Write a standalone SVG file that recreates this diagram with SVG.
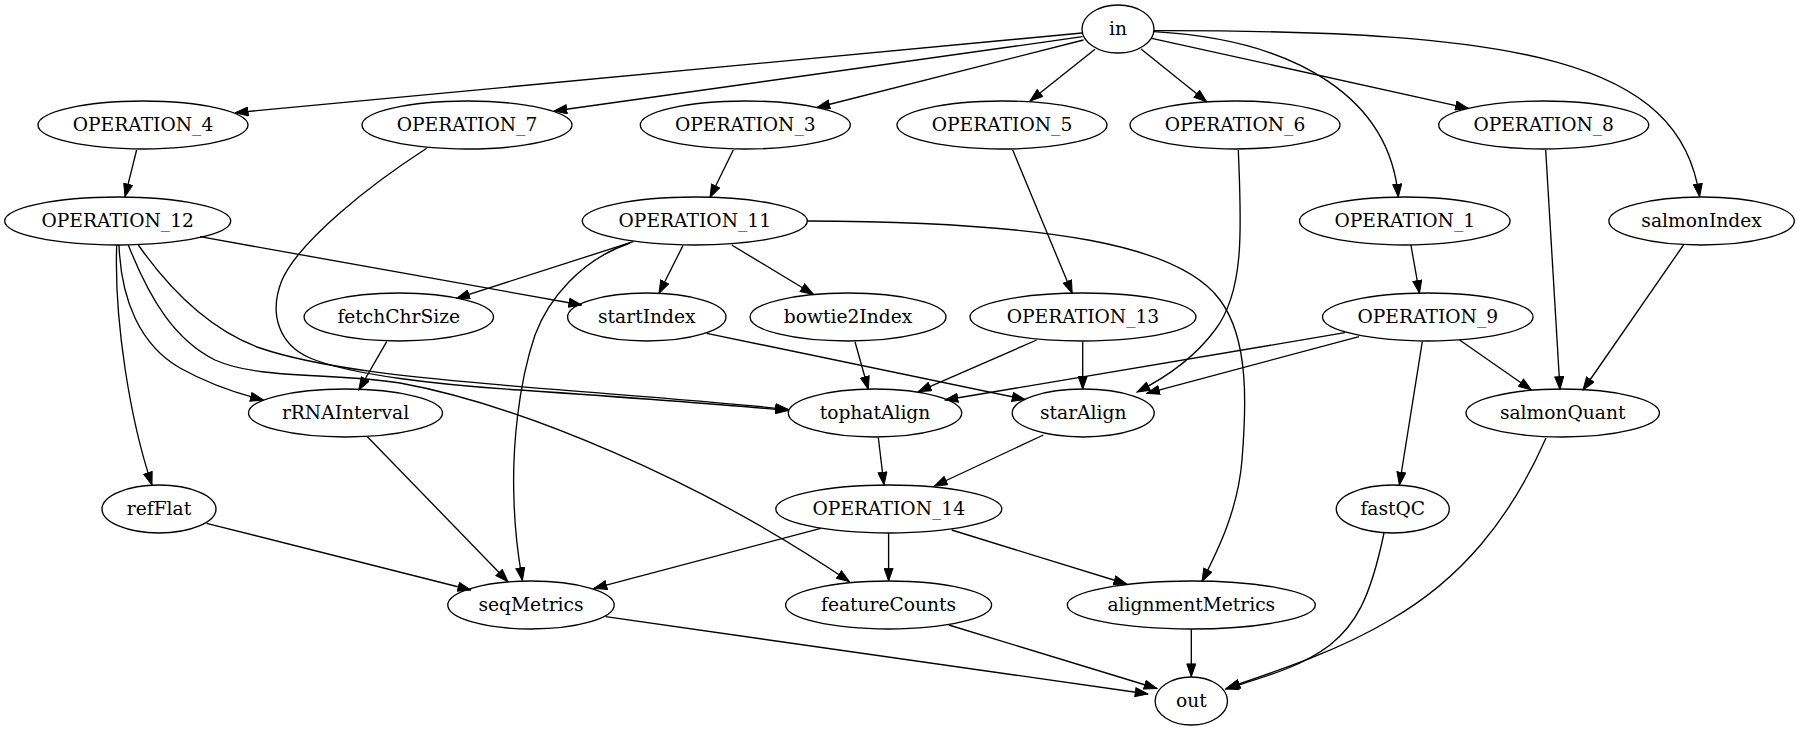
<svg xmlns="http://www.w3.org/2000/svg" width="1797" height="731" viewBox="0 0 1797 731">
<style>
.n ellipse{fill:none;stroke:#000;stroke-width:1.33}
.n text{font-family:"DejaVu Serif","Liberation Serif",serif;font-size:18.67px;text-anchor:middle;fill:#000}
#edges path{fill:none;stroke:#000;stroke-width:1.33;marker-end:url(#arr)}
</style>
<defs>
<marker id="arr" markerUnits="userSpaceOnUse" viewBox="0 0 14 10" markerWidth="14" markerHeight="10" refX="13.3" refY="5" orient="auto">
<path d="M0.5,0.5 L13.3,5 L0.5,9.5 z" fill="#000" stroke="#000" stroke-width="1"/>
</marker>
</defs>
<rect width="1797" height="731" fill="#fff"/>
<g id="edges">
<path d="M1082,33 L235.3,112.7"/>
<path d="M1082.5,36.7 L554,111"/>
<path d="M1083.5,40 L817,107.5"/>
<path d="M1095,49.3 L1030,101"/>
<path d="M1141,49 L1206.7,101.7"/>
<path d="M1151.7,38.3 L1468.3,108.3"/>
<path d="M1154,31.7 C1300,40 1390,100 1398.3,197"/>
<path d="M1154,30.7 C1520,30 1680,60 1699.6,196.7"/>
<path d="M136.6,150 L125,196.7"/>
<path d="M733.3,150 L710,197.5"/>
<path d="M1012.7,150 L1072.2,293.3"/>
<path d="M1238.3,150 C1241,220 1246,290 1215,330 C1195,357 1165,378 1137,392"/>
<path d="M426.7,148.3 C370,185 300,240 282,280 C268,315 280,345 310,358 C350,375 440,385 520,390 C620,397 720,404 788.3,410.5"/>
<path d="M1545.7,150 L1560,389.5"/>
<path d="M1410.9,245 L1419.5,293.3"/>
<path d="M1683.5,245 L1583,390"/>
<path d="M200,236.7 L581.7,305"/>
<path d="M116.7,245 C114,320 130,420 152,485"/>
<path d="M119,245 C121,300 140,345 180,368 C205,382 235,393 263.3,400"/>
<path d="M128.3,245 C150,300 175,340 215,360 C260,380 330,372 400,383 C520,405 700,480 849.5,581.7"/>
<path d="M138.3,245 C170,290 210,330 260,348 C330,372 450,380 520,386.7 C620,395 720,402 788.3,409.5"/>
<path d="M633.3,241.7 L456.7,298.3"/>
<path d="M683,245.5 L659,293.3"/>
<path d="M731.7,245 L813.3,294.3"/>
<path d="M630,243 C580,260 548,300 535,335 C518,385 512,450 514,500 C515,540 519,560 522.4,580.5"/>
<path d="M807,221 C1050,222 1180,245 1220,300 C1250,340 1246,410 1242,460 C1238,510 1218,550 1202,581.5"/>
<path d="M386.7,341.7 L358.8,390"/>
<path d="M706.7,333.3 L1025,399.5"/>
<path d="M855,341.7 L868.3,389.3"/>
<path d="M1036.7,340 L918.3,391.7"/>
<path d="M1082.7,341.7 L1082.7,389.3"/>
<path d="M1344.9,332.7 L945,400"/>
<path d="M1359,336.7 L1146.7,393.3"/>
<path d="M1459.6,340 L1531.4,390"/>
<path d="M1422.3,341.7 L1399.4,485"/>
<path d="M878.3,437.5 L884,485"/>
<path d="M1043.4,435 L934.4,486"/>
<path d="M820.8,528.3 L594,588.3"/>
<path d="M888.6,533.3 L888.6,581"/>
<path d="M951.7,530 L1126.7,584"/>
<path d="M206.6,523.3 L470.7,590"/>
<path d="M367.4,436.7 L508,581.7"/>
<path d="M605.6,616.7 L1148,694"/>
<path d="M948.8,625 L1157,688.5"/>
<path d="M1191.3,629.3 L1191.3,676.7"/>
<path d="M1384,533 C1370,600 1355,625 1330,645 C1300,668 1260,678 1225.5,689"/>
<path d="M1546,438 C1510,520 1460,580 1390,620 C1340,650 1280,670 1227,688"/>
</g>
<g id="in" class="n"><ellipse cx="1118" cy="29" rx="36" ry="24"/><text x="1118" y="34.5">in</text></g>
<g id="OPERATION_4" class="n"><ellipse cx="143" cy="125" rx="105" ry="24"/><text x="143" y="130.5">OPERATION_4</text></g>
<g id="OPERATION_7" class="n"><ellipse cx="467" cy="125" rx="105" ry="24"/><text x="467" y="130.5">OPERATION_7</text></g>
<g id="OPERATION_3" class="n"><ellipse cx="745.3" cy="125" rx="105" ry="24"/><text x="745.3" y="130.5">OPERATION_3</text></g>
<g id="OPERATION_5" class="n"><ellipse cx="1002" cy="125" rx="105" ry="24"/><text x="1002" y="130.5">OPERATION_5</text></g>
<g id="OPERATION_6" class="n"><ellipse cx="1235" cy="125" rx="105" ry="24"/><text x="1235" y="130.5">OPERATION_6</text></g>
<g id="OPERATION_8" class="n"><ellipse cx="1543.7" cy="125" rx="105" ry="24"/><text x="1543.7" y="130.5">OPERATION_8</text></g>
<g id="OPERATION_12" class="n"><ellipse cx="117.7" cy="221" rx="113" ry="24"/><text x="117.7" y="226.5">OPERATION_12</text></g>
<g id="OPERATION_11" class="n"><ellipse cx="694.8" cy="221" rx="112.5" ry="24"/><text x="694.8" y="226.5">OPERATION_11</text></g>
<g id="OPERATION_1" class="n"><ellipse cx="1404.8" cy="221" rx="105.3" ry="24"/><text x="1404.8" y="226.5">OPERATION_1</text></g>
<g id="salmonIndex" class="n"><ellipse cx="1701.6" cy="221" rx="92.7" ry="24"/><text x="1701.6" y="226.5">salmonIndex</text></g>
<g id="fetchChrSize" class="n"><ellipse cx="398.8" cy="317" rx="94.7" ry="24"/><text x="398.8" y="322.5">fetchChrSize</text></g>
<g id="startIndex" class="n"><ellipse cx="646.8" cy="317" rx="79.2" ry="24"/><text x="646.8" y="322.5">startIndex</text></g>
<g id="bowtie2Index" class="n"><ellipse cx="848" cy="317" rx="98" ry="24"/><text x="848" y="322.5">bowtie2Index</text></g>
<g id="OPERATION_13" class="n"><ellipse cx="1083" cy="317" rx="113" ry="24"/><text x="1083" y="322.5">OPERATION_13</text></g>
<g id="OPERATION_9" class="n"><ellipse cx="1427.8" cy="317" rx="105.3" ry="24"/><text x="1427.8" y="322.5">OPERATION_9</text></g>
<g id="rRNAInterval" class="n"><ellipse cx="345.5" cy="413" rx="97" ry="24"/><text x="345.5" y="418.5">rRNAInterval</text></g>
<g id="tophatAlign" class="n"><ellipse cx="875" cy="413" rx="86.7" ry="24"/><text x="875" y="418.5">tophatAlign</text></g>
<g id="starAlign" class="n"><ellipse cx="1083.2" cy="413" rx="71" ry="24"/><text x="1083.2" y="418.5">starAlign</text></g>
<g id="salmonQuant" class="n"><ellipse cx="1562.7" cy="413" rx="96.7" ry="24"/><text x="1562.7" y="418.5">salmonQuant</text></g>
<g id="refFlat" class="n"><ellipse cx="159" cy="509" rx="57" ry="24"/><text x="159" y="514.5">refFlat</text></g>
<g id="OPERATION_14" class="n"><ellipse cx="888.8" cy="509" rx="113" ry="24"/><text x="888.8" y="514.5">OPERATION_14</text></g>
<g id="fastQC" class="n"><ellipse cx="1392.8" cy="509" rx="56.5" ry="24"/><text x="1392.8" y="514.5">fastQC</text></g>
<g id="seqMetrics" class="n"><ellipse cx="531" cy="605" rx="83.2" ry="24"/><text x="531" y="610.5">seqMetrics</text></g>
<g id="featureCounts" class="n"><ellipse cx="888.6" cy="605" rx="103" ry="24"/><text x="888.6" y="610.5">featureCounts</text></g>
<g id="alignmentMetrics" class="n"><ellipse cx="1191.3" cy="605" rx="124" ry="24"/><text x="1191.3" y="610.5">alignmentMetrics</text></g>
<g id="out" class="n"><ellipse cx="1191.3" cy="701" rx="36.2" ry="24"/><text x="1191.3" y="706.5">out</text></g>
</svg>
